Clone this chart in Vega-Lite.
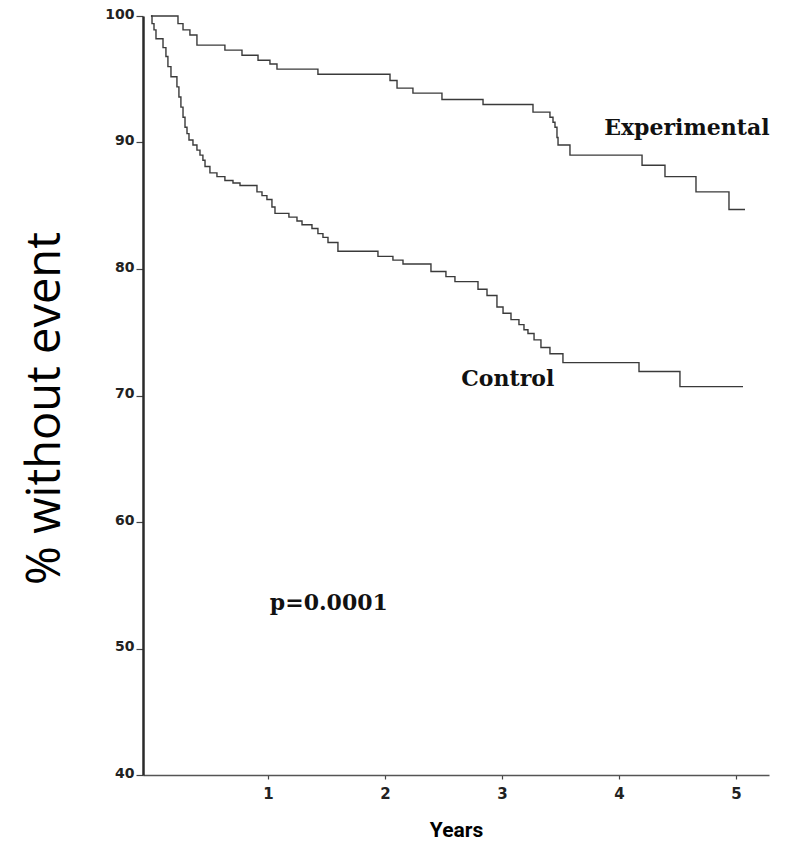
{
  "$schema": "https://vega.github.io/schema/vega-lite/v6.json",
  "autosize": "none",
  "width": 626,
  "height": 759,
  "padding": {"left": 143, "top": 16, "right": 18, "bottom": 70},
  "background": "white",
  "config": {"view": {"stroke": null}},
  "datasets": {
    "curves": [
      {"group": "Experimental", "t": 0, "v": 100},
      {"group": "Experimental", "t": 0.231, "v": 99.4},
      {"group": "Experimental", "t": 0.274, "v": 98.9},
      {"group": "Experimental", "t": 0.333, "v": 98.5},
      {"group": "Experimental", "t": 0.393, "v": 97.7},
      {"group": "Experimental", "t": 0.632, "v": 97.3},
      {"group": "Experimental", "t": 0.778, "v": 96.9},
      {"group": "Experimental", "t": 0.915, "v": 96.5},
      {"group": "Experimental", "t": 1.017, "v": 96.2},
      {"group": "Experimental", "t": 1.077, "v": 95.8},
      {"group": "Experimental", "t": 1.427, "v": 95.4},
      {"group": "Experimental", "t": 2.043, "v": 94.9},
      {"group": "Experimental", "t": 2.103, "v": 94.3},
      {"group": "Experimental", "t": 2.239, "v": 93.9},
      {"group": "Experimental", "t": 2.487, "v": 93.4},
      {"group": "Experimental", "t": 2.838, "v": 93.0},
      {"group": "Experimental", "t": 3.265, "v": 92.4},
      {"group": "Experimental", "t": 3.41, "v": 92.0},
      {"group": "Experimental", "t": 3.436, "v": 91.6},
      {"group": "Experimental", "t": 3.453, "v": 91.2},
      {"group": "Experimental", "t": 3.47, "v": 90.4},
      {"group": "Experimental", "t": 3.479, "v": 89.8},
      {"group": "Experimental", "t": 3.581, "v": 89.0},
      {"group": "Experimental", "t": 4.197, "v": 88.2},
      {"group": "Experimental", "t": 4.393, "v": 87.3},
      {"group": "Experimental", "t": 4.658, "v": 86.1},
      {"group": "Experimental", "t": 4.94, "v": 84.7},
      {"group": "Experimental", "t": 5.077, "v": 84.7},
      {"group": "Control", "t": 0, "v": 100},
      {"group": "Control", "t": 0.009, "v": 99.4},
      {"group": "Control", "t": 0.026, "v": 98.9},
      {"group": "Control", "t": 0.043, "v": 98.2},
      {"group": "Control", "t": 0.103, "v": 97.5},
      {"group": "Control", "t": 0.128, "v": 96.8},
      {"group": "Control", "t": 0.145, "v": 96.0},
      {"group": "Control", "t": 0.171, "v": 95.2},
      {"group": "Control", "t": 0.222, "v": 94.4},
      {"group": "Control", "t": 0.239, "v": 93.6},
      {"group": "Control", "t": 0.256, "v": 92.8},
      {"group": "Control", "t": 0.274, "v": 92.0},
      {"group": "Control", "t": 0.291, "v": 91.2},
      {"group": "Control", "t": 0.308, "v": 90.7},
      {"group": "Control", "t": 0.325, "v": 90.2},
      {"group": "Control", "t": 0.359, "v": 89.8},
      {"group": "Control", "t": 0.393, "v": 89.4},
      {"group": "Control", "t": 0.419, "v": 89.0},
      {"group": "Control", "t": 0.444, "v": 88.6},
      {"group": "Control", "t": 0.462, "v": 88.1},
      {"group": "Control", "t": 0.504, "v": 87.6},
      {"group": "Control", "t": 0.564, "v": 87.3},
      {"group": "Control", "t": 0.632, "v": 87.0},
      {"group": "Control", "t": 0.701, "v": 86.8},
      {"group": "Control", "t": 0.761, "v": 86.6},
      {"group": "Control", "t": 0.906, "v": 86.1},
      {"group": "Control", "t": 0.949, "v": 85.8},
      {"group": "Control", "t": 0.991, "v": 85.5},
      {"group": "Control", "t": 1.034, "v": 84.9},
      {"group": "Control", "t": 1.06, "v": 84.4},
      {"group": "Control", "t": 1.179, "v": 84.1},
      {"group": "Control", "t": 1.248, "v": 83.8},
      {"group": "Control", "t": 1.291, "v": 83.5},
      {"group": "Control", "t": 1.376, "v": 83.2},
      {"group": "Control", "t": 1.427, "v": 82.8},
      {"group": "Control", "t": 1.47, "v": 82.5},
      {"group": "Control", "t": 1.513, "v": 82.1},
      {"group": "Control", "t": 1.598, "v": 81.4},
      {"group": "Control", "t": 1.94, "v": 81.0},
      {"group": "Control", "t": 2.068, "v": 80.7},
      {"group": "Control", "t": 2.154, "v": 80.4},
      {"group": "Control", "t": 2.393, "v": 79.8},
      {"group": "Control", "t": 2.521, "v": 79.4},
      {"group": "Control", "t": 2.598, "v": 79.0},
      {"group": "Control", "t": 2.795, "v": 78.4},
      {"group": "Control", "t": 2.872, "v": 77.9},
      {"group": "Control", "t": 2.957, "v": 77.0},
      {"group": "Control", "t": 3.009, "v": 76.5},
      {"group": "Control", "t": 3.077, "v": 76.0},
      {"group": "Control", "t": 3.145, "v": 75.6},
      {"group": "Control", "t": 3.188, "v": 75.2},
      {"group": "Control", "t": 3.222, "v": 74.9},
      {"group": "Control", "t": 3.274, "v": 74.4},
      {"group": "Control", "t": 3.333, "v": 73.8},
      {"group": "Control", "t": 3.41, "v": 73.3},
      {"group": "Control", "t": 3.521, "v": 72.6},
      {"group": "Control", "t": 4.171, "v": 71.9},
      {"group": "Control", "t": 4.521, "v": 70.7},
      {"group": "Control", "t": 5.06, "v": 70.7}
    ],
    "notes": [
      {"label": "Experimental", "t": 4.58, "v": 91.15},
      {"label": "Control", "t": 3.05, "v": 71.3},
      {"label": "p=0.0001", "t": 1.52, "v": 53.6}
    ]
  },
  "layer": [
    {
      "data": {"name": "curves"},
      "mark": {"type": "line", "interpolate": "step-after", "color": "#3a3a3a", "strokeWidth": 1.4},
      "encoding": {
        "x": {
          "field": "t", "type": "quantitative",
          "scale": {"domain": [-0.068, 5.282], "nice": false, "zero": false},
          "axis": {
            "values": [1, 2, 3, 4, 5],
            "format": "d",
            "grid": false,
            "domainColor": "#555555",
            "domainWidth": 1.5,
            "tickColor": "#444444",
            "tickSize": 4,
            "tickWidth": 1.2,
            "labelFont": "DejaVu Sans",
            "labelFontWeight": "bold",
            "labelFontSize": 15,
            "labelColor": "#222222",
            "labelPadding": 7,
            "title": "Years",
            "titleFont": "Roboto",
            "titleFontWeight": "bold",
            "titleFontSize": 21,
            "titleColor": "#000000",
            "titlePadding": 18
          }
        },
        "y": {
          "field": "v", "type": "quantitative",
          "scale": {"domain": [40, 100], "nice": false, "zero": false},
          "axis": {
            "values": [40, 50, 60, 70, 80, 90, 100],
            "grid": false,
            "domainColor": "#2a2a2a",
            "domainWidth": 2.5,
            "tickColor": "#444444",
            "tickSize": 7,
            "tickWidth": 1.2,
            "labelFont": "DejaVu Sans",
            "labelFontWeight": "bold",
            "labelFontSize": 14,
            "labelColor": "#222222",
            "labelPadding": 2,
            "labelOffset": -2,
            "title": "% without event",
            "titleFont": "Open Sans",
            "titleFontWeight": "normal",
            "titleFontSize": 47,
            "titleColor": "#000000",
            "titleX": -74,
            "titleY": 392,
            "titleAngle": -90,
            "titleAlign": "center",
            "titleBaseline": "bottom"
          }
        },
        "detail": {"field": "group"}
      }
    },
    {
      "data": {"name": "notes"},
      "mark": {"type": "text", "font": "DejaVu Serif", "fontWeight": "bold", "fontSize": 22, "color": "#111111", "align": "center", "baseline": "middle"},
      "encoding": {
        "x": {"field": "t", "type": "quantitative"},
        "y": {"field": "v", "type": "quantitative"},
        "text": {"field": "label"}
      }
    }
  ]
}
